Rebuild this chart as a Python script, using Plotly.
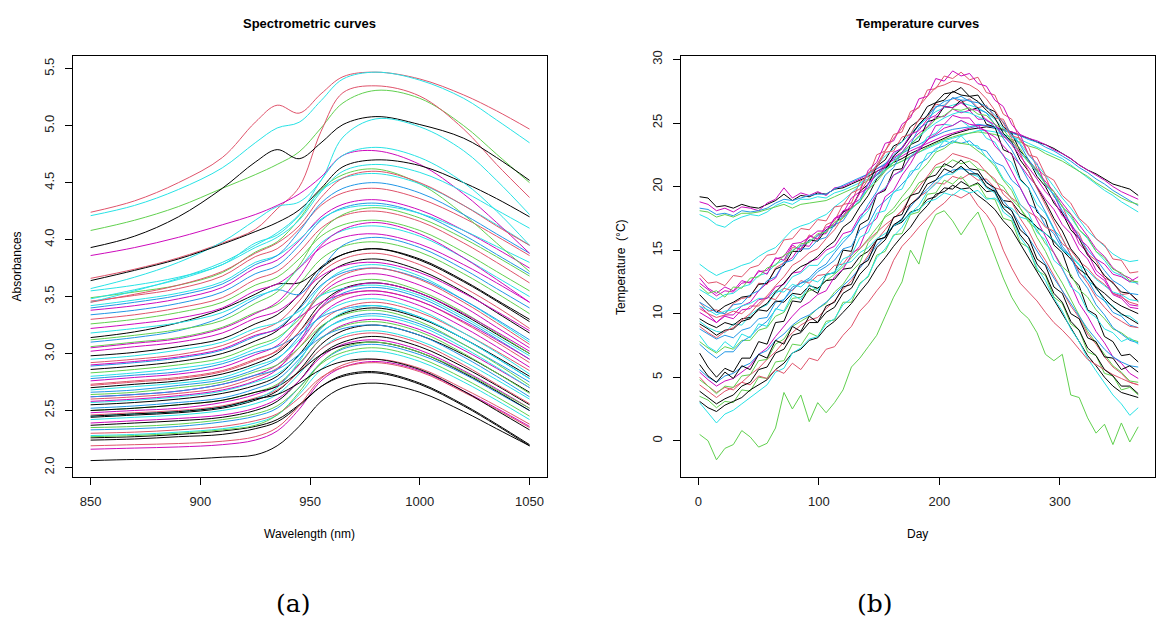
import plotly.graph_objects as go

# ---------------- palette (R default palette, matplot col = 1:6) ----------------
PAL = {"k": "#000000", "r": "#DF536B", "g": "#61D04F", "b": "#2297E6",
       "c": "#28E2E5", "m": "#CD0BBC"}

# ---------------- (a) spectrometric curves ----------------
SPEC_WAVELENGTH = [850, 870, 890, 910, 925, 935, 945, 955, 965, 980, 1000, 1020, 1035, 1050]

SPEC_ABSORBANCE = [
    [2.06, 2.07, 2.07, 2.09, 2.11, 2.19, 2.36, 2.58, 2.70, 2.74, 2.66, 2.49, 2.34, 2.19],
    [2.16, 2.17, 2.18, 2.20, 2.24, 2.32, 2.51, 2.76, 2.88, 2.93, 2.85, 2.67, 2.52, 2.36],
    [2.24, 2.25, 2.27, 2.29, 2.34, 2.40, 2.54, 2.71, 2.81, 2.84, 2.74, 2.55, 2.38, 2.20],
    [2.26, 2.27, 2.29, 2.32, 2.36, 2.42, 2.55, 2.71, 2.80, 2.83, 2.73, 2.54, 2.37, 2.19],
    [2.19, 2.20, 2.21, 2.23, 2.27, 2.35, 2.54, 2.78, 2.90, 2.95, 2.87, 2.69, 2.54, 2.38],
    [2.28, 2.29, 2.31, 2.34, 2.39, 2.46, 2.64, 2.86, 2.98, 3.02, 2.93, 2.75, 2.59, 2.42],
    [2.30, 2.31, 2.33, 2.36, 2.41, 2.47, 2.61, 2.79, 2.88, 2.92, 2.84, 2.66, 2.51, 2.35],
    [2.33, 2.34, 2.36, 2.40, 2.45, 2.52, 2.70, 2.92, 3.04, 3.08, 2.99, 2.82, 2.66, 2.50],
    [2.35, 2.36, 2.38, 2.42, 2.47, 2.54, 2.70, 2.91, 3.01, 3.05, 2.96, 2.78, 2.62, 2.45],
    [2.37, 2.39, 2.41, 2.44, 2.50, 2.58, 2.76, 2.99, 3.10, 3.15, 3.06, 2.88, 2.72, 2.55],
    [2.39, 2.41, 2.43, 2.46, 2.52, 2.60, 2.76, 2.97, 3.08, 3.12, 3.03, 2.85, 2.69, 2.52],
    [2.42, 2.44, 2.46, 2.50, 2.56, 2.64, 2.82, 3.04, 3.16, 3.20, 3.11, 2.93, 2.77, 2.60],
    [2.44, 2.46, 2.48, 2.52, 2.59, 2.67, 2.85, 3.08, 3.20, 3.25, 3.16, 2.99, 2.83, 2.66],
    [2.46, 2.48, 2.50, 2.54, 2.61, 2.68, 2.84, 3.04, 3.14, 3.18, 3.09, 2.90, 2.73, 2.56],
    [2.48, 2.50, 2.52, 2.57, 2.64, 2.72, 2.90, 3.13, 3.25, 3.30, 3.21, 3.03, 2.87, 2.70],
    [2.50, 2.52, 2.55, 2.59, 2.66, 2.73, 2.91, 3.13, 3.24, 3.28, 3.19, 3.00, 2.83, 2.65],
    [2.52, 2.54, 2.57, 2.61, 2.69, 2.77, 2.95, 3.18, 3.30, 3.35, 3.26, 3.08, 2.92, 2.75],
    [2.55, 2.57, 2.60, 2.65, 2.72, 2.80, 2.99, 3.23, 3.35, 3.40, 3.31, 3.13, 2.97, 2.80],
    [2.57, 2.59, 2.62, 2.67, 2.75, 2.82, 2.98, 3.19, 3.29, 3.33, 3.24, 3.05, 2.88, 2.70],
    [2.60, 2.62, 2.65, 2.70, 2.79, 2.87, 3.05, 3.28, 3.40, 3.45, 3.36, 3.18, 3.02, 2.85],
    [2.62, 2.64, 2.67, 2.73, 2.81, 2.90, 3.09, 3.34, 3.47, 3.52, 3.42, 3.23, 3.06, 2.88],
    [2.64, 2.66, 2.70, 2.75, 2.84, 2.90, 3.05, 3.24, 3.34, 3.38, 3.28, 3.08, 2.91, 2.72],
    [2.66, 2.68, 2.72, 2.77, 2.86, 2.95, 3.15, 3.40, 3.53, 3.58, 3.49, 3.30, 3.13, 2.95],
    [2.68, 2.71, 2.74, 2.79, 2.89, 2.96, 3.12, 3.33, 3.44, 3.48, 3.38, 3.18, 3.01, 2.82],
    [2.70, 2.73, 2.76, 2.82, 2.91, 3.00, 3.19, 3.44, 3.57, 3.62, 3.53, 3.34, 3.17, 3.00],
    [2.73, 2.76, 2.79, 2.85, 2.95, 3.02, 3.19, 3.40, 3.51, 3.55, 3.46, 3.27, 3.10, 2.92],
    [2.76, 2.79, 2.82, 2.88, 2.99, 3.07, 3.27, 3.52, 3.65, 3.70, 3.60, 3.41, 3.23, 3.05],
    [2.78, 2.81, 2.84, 2.91, 3.01, 3.06, 3.17, 3.32, 3.39, 3.42, 3.32, 3.13, 2.96, 2.78],
    [2.80, 2.83, 2.87, 2.93, 3.04, 3.12, 3.33, 3.59, 3.73, 3.78, 3.68, 3.47, 3.29, 3.10],
    [2.83, 2.86, 2.90, 2.96, 3.07, 3.14, 3.30, 3.51, 3.61, 3.65, 3.55, 3.36, 3.18, 3.00],
    [2.86, 2.89, 2.93, 3.00, 3.11, 3.20, 3.40, 3.65, 3.78, 3.83, 3.73, 3.54, 3.36, 3.18],
    [2.89, 2.92, 2.96, 3.03, 3.15, 3.22, 3.39, 3.60, 3.71, 3.75, 3.66, 3.47, 3.30, 3.12],
    [2.92, 2.95, 2.99, 3.07, 3.19, 3.27, 3.46, 3.71, 3.83, 3.88, 3.78, 3.58, 3.41, 3.22],
    [2.95, 2.98, 3.03, 3.10, 3.22, 3.27, 3.37, 3.51, 3.57, 3.60, 3.51, 3.32, 3.15, 2.98],
    [2.98, 3.01, 3.06, 3.13, 3.26, 3.34, 3.52, 3.76, 3.87, 3.92, 3.82, 3.63, 3.46, 3.28],
    [3.02, 3.06, 3.10, 3.18, 3.31, 3.37, 3.51, 3.68, 3.77, 3.80, 3.71, 3.53, 3.37, 3.20],
    [3.06, 3.10, 3.14, 3.23, 3.36, 3.43, 3.61, 3.83, 3.94, 3.98, 3.89, 3.70, 3.53, 3.35],
    [3.10, 3.14, 3.20, 3.32, 3.48, 3.56, 3.52, 3.74, 3.95, 4.02, 3.93, 3.74, 3.57, 3.40],
    [3.14, 3.19, 3.27, 3.39, 3.52, 3.61, 3.62, 3.75, 3.87, 3.92, 3.83, 3.64, 3.47, 3.30],
    [3.18, 3.22, 3.27, 3.36, 3.50, 3.57, 3.75, 3.97, 4.08, 4.12, 4.03, 3.84, 3.67, 3.50],
    [3.22, 3.26, 3.31, 3.40, 3.55, 3.61, 3.75, 3.93, 4.02, 4.05, 3.96, 3.78, 3.62, 3.45],
    [3.26, 3.30, 3.36, 3.45, 3.60, 3.67, 3.83, 4.03, 4.13, 4.17, 4.08, 3.89, 3.72, 3.55],
    [3.30, 3.34, 3.40, 3.49, 3.65, 3.72, 3.89, 4.10, 4.21, 4.25, 4.16, 3.97, 3.80, 3.62],
    [3.34, 3.38, 3.44, 3.54, 3.70, 3.77, 3.95, 4.17, 4.28, 4.32, 4.23, 4.04, 3.87, 3.70],
    [3.38, 3.42, 3.48, 3.58, 3.75, 3.82, 3.99, 4.20, 4.31, 4.35, 4.26, 4.08, 3.92, 3.75],
    [3.42, 3.47, 3.53, 3.63, 3.80, 3.86, 4.00, 4.18, 4.27, 4.30, 4.23, 4.08, 3.94, 3.80],
    [3.46, 3.51, 3.57, 3.68, 3.85, 3.92, 4.09, 4.30, 4.41, 4.45, 4.36, 4.19, 4.03, 3.86],
    [3.49, 3.54, 3.60, 3.71, 3.89, 3.98, 4.18, 4.44, 4.57, 4.62, 4.49, 4.22, 3.97, 3.72],
    [3.55, 3.60, 3.67, 3.78, 3.97, 4.04, 4.21, 4.43, 4.54, 4.58, 4.49, 4.30, 4.13, 3.95],
    [3.40, 3.45, 3.51, 3.61, 3.78, 3.86, 4.07, 4.32, 4.45, 4.50, 4.41, 4.22, 4.05, 3.88],
    [2.90, 2.93, 2.97, 3.04, 3.16, 3.21, 3.32, 3.45, 3.52, 3.55, 3.46, 3.28, 3.12, 2.95],
    [2.58, 2.60, 2.63, 2.68, 2.76, 2.86, 3.10, 3.41, 3.56, 3.62, 3.53, 3.35, 3.19, 3.02],
    [2.50, 2.52, 2.55, 2.59, 2.66, 2.71, 2.84, 2.99, 3.07, 3.10, 3.01, 2.83, 2.67, 2.50],
    [2.27, 2.28, 2.30, 2.33, 2.37, 2.46, 2.66, 2.92, 3.05, 3.10, 3.01, 2.84, 2.68, 2.52],
    [2.45, 2.47, 2.49, 2.53, 2.60, 2.70, 2.93, 3.22, 3.36, 3.42, 3.32, 3.13, 2.96, 2.78],
    [2.72, 2.75, 2.78, 2.84, 2.94, 3.03, 3.26, 3.55, 3.69, 3.75, 3.65, 3.45, 3.27, 3.08],
    [2.62, 2.64, 2.67, 2.73, 2.81, 2.86, 2.99, 3.14, 3.22, 3.25, 3.16, 2.97, 2.80, 2.62],
    [3.12, 3.16, 3.21, 3.29, 3.44, 3.54, 3.77, 4.07, 4.22, 4.28, 4.19, 4.01, 3.85, 3.68],
    [3.05, 3.09, 3.13, 3.22, 3.35, 3.45, 3.67, 3.95, 4.09, 4.15, 4.05, 3.84, 3.65, 3.45],
    [2.45, 2.47, 2.49, 2.53, 2.60, 2.64, 2.74, 2.86, 2.93, 2.95, 2.86, 2.67, 2.50, 2.33],
    [4.24, 4.34, 4.50, 4.72, 5.03, 5.18, 5.11, 5.28, 5.43, 5.47, 5.41, 5.27, 5.13, 4.97],
    [4.21, 4.30, 4.44, 4.63, 4.85, 4.98, 5.03, 5.22, 5.41, 5.47, 5.40, 5.24, 5.05, 4.85],
    [4.08, 4.17, 4.29, 4.45, 4.57, 4.66, 4.77, 4.98, 5.20, 5.31, 5.24, 5.00, 4.75, 4.50],
    [3.66, 3.74, 3.84, 3.97, 4.09, 4.27, 4.46, 4.95, 5.29, 5.35, 5.26, 4.97, 4.66, 4.37],
    [3.93, 4.03, 4.20, 4.45, 4.68, 4.79, 4.71, 4.85, 5.01, 5.08, 5.01, 4.89, 4.72, 4.52],
    [3.57, 3.67, 3.80, 3.98, 4.17, 4.29, 4.33, 4.52, 4.90, 5.06, 4.99, 4.78, 4.52, 4.22],
    [3.86, 3.93, 4.02, 4.13, 4.22, 4.30, 4.40, 4.55, 4.74, 4.78, 4.66, 4.40, 4.15, 3.88],
    [3.64, 3.73, 3.83, 3.96, 4.07, 4.15, 4.26, 4.45, 4.64, 4.70, 4.65, 4.50, 4.36, 4.20],
    [3.45, 3.55, 3.66, 3.80, 3.95, 4.06, 4.22, 4.52, 4.74, 4.81, 4.72, 4.50, 4.25, 3.95],
    [3.48, 3.56, 3.65, 3.78, 3.93, 4.02, 4.17, 4.42, 4.60, 4.66, 4.59, 4.42, 4.26, 4.10],
    [3.45, 3.52, 3.60, 3.72, 3.88, 3.97, 4.12, 4.37, 4.54, 4.60, 4.50, 4.30, 4.12, 3.95],
]
SPEC_COLOR = list("kmkkrcrbgkmckrmgbkcrmgbckrmbcgkbrckmgbkcmgrbmcrgcbmmkgcrbgmk"
                  "rcgrkcmkccr")

# ---------------- (b) temperature curves ----------------
TEMP_DAY = [1, 8, 15, 22, 29, 36, 43, 50, 57, 64, 71, 78, 85, 92, 99, 106, 113, 120,
            127, 134, 141, 148, 155, 162, 169, 176, 183, 190, 197, 204, 211, 218, 225,
            232, 239, 246, 253, 260, 267, 274, 281, 288, 295, 302, 309, 316, 323, 330,
            337, 344, 351, 358, 365]

TEMP_VALUES = [
    [19.2, 19.1, 18.4, 18.5, 18.3, 18.6, 18.4, 18.3, 18.6, 18.9, 19.4, 18.9, 19.3,
     19.2, 19.5, 19.4, 19.8, 19.9, 20.2, 20.5, 20.8, 21.2, 21.5, 21.9, 22.2, 22.6,
     22.9, 23.2, 23.5, 23.8, 24.1, 24.3, 24.5, 24.6, 24.7, 24.6, 24.5, 24.3, 24.0,
     23.8, 23.5, 23.3, 23.0, 22.6, 22.2, 21.7, 21.3, 21.0, 20.6, 20.2, 20.0, 19.8, 19.3],
    [18.8, 18.6, 18.1, 18.3, 18.0, 18.4, 18.3, 18.1, 18.7, 19.0, 19.9, 19.1, 19.5,
     19.3, 19.6, 19.3, 19.9, 20.0, 20.3, 20.6, 21.0, 21.4, 21.7, 22.1, 22.4, 22.8,
     23.1, 23.4, 23.7, 24.0, 24.2, 24.4, 24.6, 24.8, 24.8, 24.7, 24.5, 24.3, 24.1,
     23.8, 23.6, 23.3, 22.9, 22.6, 22.2, 21.7, 21.3, 20.9, 20.5, 20.0, 19.6, 19.3, 19.0],
    [17.8, 17.5, 17.0, 16.8, 17.3, 17.6, 17.8, 17.7, 18.0, 18.5, 18.8, 18.6, 19.0,
     19.0, 19.2, 19.1, 19.5, 19.7, 20.0, 20.3, 20.6, 21.0, 21.4, 21.7, 22.0, 22.3,
     22.7, 23.0, 23.3, 23.6, 23.8, 24.0, 24.2, 24.4, 24.4, 24.3, 24.1, 23.9, 23.7,
     23.4, 23.1, 22.8, 22.5, 22.2, 21.7, 21.2, 20.7, 20.2, 19.7, 19.3, 18.8, 18.4, 18.0],
    [18.3, 18.2, 17.8, 17.9, 17.7, 18.1, 18.0, 18.1, 18.3, 18.7, 19.0, 18.9, 19.1,
     19.3, 19.4, 19.4, 19.8, 20.1, 20.4, 20.7, 21.0, 21.4, 21.8, 22.2, 22.6, 23.0,
     23.3, 23.7, 24.0, 24.3, 24.5, 24.6, 24.7, 24.9, 24.8, 24.6, 24.4, 24.2, 24.0,
     23.7, 23.5, 23.1, 22.8, 22.4, 22.0, 21.5, 21.1, 20.6, 20.2, 19.7, 19.3, 18.9, 18.5],
    [18.1, 18.0, 17.6, 17.8, 17.6, 17.9, 17.9, 18.0, 18.2, 18.4, 18.6, 18.3, 18.6,
     18.7, 18.8, 18.9, 19.2, 19.5, 19.8, 20.1, 20.5, 20.9, 21.3, 21.7, 22.0, 22.4,
     22.7, 23.1, 23.4, 23.7, 23.9, 24.1, 24.2, 24.3, 24.2, 24.1, 23.9, 23.7, 23.5,
     23.2, 23.0, 22.6, 22.3, 22.0, 21.6, 21.2, 20.8, 20.3, 19.9, 19.5, 19.1, 18.8, 18.6],
    [0.5, 0.0, -1.5, -0.6, -0.3, 0.8, 0.3, -0.5, -0.2, 1.0, 3.8, 2.5, 3.6,
     1.5, 3.0, 2.2, 3.0, 4.0, 5.8, 6.5, 7.4, 8.3, 9.8, 11.3, 12.5, 15.0,
     13.9, 16.5, 17.8, 18.1, 17.3, 16.2, 17.2, 18.0, 16.3, 14.5, 12.8, 11.3, 10.2,
     9.6, 8.5, 6.8, 6.3, 6.8, 3.6, 3.4, 1.8, 0.6, 1.3, -0.3, 1.4, -0.1, 1.1],
    [10.9, 10.2, 10.3, 10.0, 10.8, 11.2, 11.3, 12.4, 12.3, 13.6, 14.0, 15.2, 15.1,
     16.2, 15.8, 17.0, 17.3, 18.6, 18.7, 20.4, 20.8, 22.5, 22.8, 24.1, 24.3, 25.9,
     26.2, 27.6, 27.7, 28.7, 28.5, 29.0, 28.4, 28.6, 27.4, 27.2, 25.7, 25.3, 23.6,
     23.1, 21.4, 20.8, 19.2, 18.5, 16.9, 16.3, 14.7, 14.2, 12.8, 12.5, 11.5, 11.6, 10.9],
    [10.6, 10.0, 9.3, 9.9, 9.9, 10.6, 10.9, 11.8, 12.4, 12.8, 14.0, 14.4, 15.4,
     15.3, 16.2, 16.3, 17.5, 17.9, 19.1, 19.6, 21.3, 21.9, 23.4, 23.6, 24.9, 25.4,
     26.9, 27.1, 28.5, 28.3, 29.1, 28.7, 28.9, 28.1, 27.9, 26.8, 26.3, 24.9, 24.1,
     22.5, 21.8, 20.1, 19.4, 17.9, 17.0, 15.5, 14.8, 13.4, 12.8, 11.6, 11.4, 10.7, 10.6],
    [11.5, 10.8, 10.1, 10.6, 10.9, 11.3, 11.4, 12.3, 12.4, 13.5, 13.8, 14.9, 14.9,
     15.8, 15.7, 16.6, 16.9, 18.0, 18.3, 19.6, 20.2, 21.6, 22.1, 23.2, 23.5, 24.7,
     25.2, 26.3, 26.6, 27.3, 27.4, 27.8, 27.1, 27.2, 26.2, 25.9, 24.7, 24.2, 22.8,
     22.1, 20.8, 20.0, 18.7, 17.9, 16.6, 15.9, 14.6, 13.9, 13.0, 12.4, 11.7, 11.6, 11.0],
    [13.9, 13.4, 13.0, 13.3, 13.5, 13.8, 14.0, 14.5, 14.9, 15.2, 15.9, 16.6, 16.9,
     17.1, 17.5, 17.8, 18.4, 18.9, 19.5, 20.1, 20.9, 21.7, 22.4, 23.0, 23.5, 24.2,
     24.8, 25.4, 25.9, 26.2, 26.4, 26.6, 26.4, 26.2, 25.8, 25.3, 24.6, 24.1, 23.4,
     22.5, 21.7, 20.9, 20.0, 19.1, 18.3, 17.4, 16.5, 15.9, 15.3, 14.7, 14.3, 14.1, 14.2],
    [13.1, 12.4, 12.5, 12.2, 13.0, 12.9, 13.6, 13.8, 14.6, 14.7, 15.8, 15.9, 16.7,
     16.6, 17.4, 17.3, 18.4, 18.5, 19.5, 19.8, 21.1, 21.5, 22.7, 22.8, 23.9, 24.1,
     25.3, 25.4, 26.5, 26.3, 27.0, 26.6, 26.9, 26.2, 26.4, 25.4, 25.3, 24.0, 23.8,
     22.5, 22.3, 20.9, 20.5, 19.3, 18.7, 17.5, 16.9, 15.9, 15.4, 14.3, 14.2, 13.2, 13.3],
    [12.4, 11.9, 11.4, 11.8, 11.7, 12.4, 12.5, 13.3, 13.4, 14.3, 14.5, 15.5, 15.6,
     16.0, 16.5, 16.5, 17.5, 17.7, 18.6, 19.0, 20.3, 20.9, 21.5, 22.3, 22.7, 23.6,
     24.2, 24.7, 25.5, 25.5, 26.1, 25.8, 26.0, 25.3, 25.3, 24.7, 24.0, 23.5, 22.6,
     22.0, 21.2, 20.4, 19.6, 18.7, 17.8, 17.0, 16.1, 15.1, 14.5, 13.6, 13.1, 12.8, 12.3],
    [10.9, 10.5, 10.1, 10.0, 10.7, 10.8, 11.5, 11.8, 12.6, 12.9, 14.0, 14.2, 15.1,
     15.1, 15.8, 16.0, 17.0, 17.3, 18.3, 18.8, 20.2, 20.9, 21.8, 22.5, 23.1, 24.0,
     24.8, 25.6, 26.2, 26.7, 26.9, 27.1, 26.7, 26.6, 26.3, 25.6, 25.1, 24.0, 23.3,
     22.1, 21.3, 20.2, 19.3, 18.1, 17.1, 16.1, 15.0, 14.3, 13.4, 12.6, 12.2, 11.6, 11.5],
    [6.9, 5.8, 5.0, 5.7, 5.4, 6.5, 6.5, 7.8, 7.6, 9.3, 9.4, 11.0, 10.9,
     12.0, 11.6, 13.1, 13.2, 15.0, 14.9, 17.0, 17.4, 19.4, 19.7, 21.3, 21.4, 23.3,
     23.6, 25.1, 25.3, 26.3, 26.2, 26.8, 26.0, 26.2, 24.9, 24.7, 22.9, 22.6, 20.6,
     19.9, 18.0, 17.4, 15.4, 14.8, 12.9, 12.2, 10.3, 9.9, 8.2, 7.8, 6.7, 6.8, 6.2],
    [9.4, 8.9, 8.6, 8.5, 9.2, 9.1, 9.9, 10.4, 10.7, 11.6, 12.0, 12.9, 13.2,
     13.8, 13.8, 14.6, 15.0, 15.9, 16.3, 17.4, 18.1, 19.4, 19.9, 20.9, 21.2, 22.4,
     22.9, 23.9, 24.2, 24.9, 24.8, 25.2, 24.7, 24.7, 23.8, 23.5, 22.4, 21.9, 20.5,
     19.9, 18.6, 17.9, 16.6, 15.9, 14.6, 13.9, 12.6, 12.1, 11.0, 10.6, 9.9, 9.8, 9.3],
    [8.8, 8.4, 8.0, 8.3, 8.1, 8.7, 8.9, 9.6, 9.7, 10.9, 11.1, 12.1, 12.4,
     12.6, 13.3, 13.7, 14.2, 15.1, 15.3, 16.6, 17.0, 18.3, 18.9, 19.5, 20.2, 20.9,
     21.8, 22.2, 23.0, 23.2, 23.6, 23.4, 23.6, 23.0, 22.8, 21.9, 21.6, 20.5, 19.9,
     18.6, 18.2, 16.9, 16.3, 15.1, 14.5, 13.2, 12.7, 11.5, 11.0, 10.1, 9.8, 9.1, 8.9],
    [7.8, 7.3, 6.9, 7.4, 7.2, 7.9, 7.9, 8.7, 8.9, 9.8, 10.1, 11.2, 11.3,
     11.8, 12.0, 12.6, 13.1, 13.7, 14.4, 15.1, 15.9, 16.8, 17.6, 18.0, 18.8, 19.3,
     20.3, 20.6, 21.5, 21.6, 22.1, 21.8, 22.0, 21.4, 21.2, 20.4, 20.0, 19.0, 18.3,
     17.2, 16.6, 15.5, 14.8, 13.7, 13.1, 11.9, 11.3, 10.3, 9.6, 8.8, 8.5, 8.0, 7.8],
    [9.6, 9.2, 8.9, 9.3, 9.1, 9.6, 9.7, 10.3, 10.2, 11.0, 10.9, 11.6, 11.5,
     12.2, 12.0, 12.6, 12.7, 13.5, 13.6, 14.5, 14.9, 15.8, 16.0, 16.9, 17.2, 18.0,
     18.2, 19.0, 19.2, 19.9, 19.8, 20.4, 20.0, 20.3, 19.6, 19.7, 18.9, 18.8, 17.9,
     17.5, 16.8, 16.3, 15.7, 15.0, 14.3, 13.5, 13.0, 12.1, 11.6, 11.0, 10.6, 10.3, 10.0],
    [10.4, 10.0, 9.7, 9.9, 10.2, 10.0, 10.6, 10.6, 11.3, 11.1, 12.0, 11.8, 12.6,
     12.4, 13.0, 13.1, 13.8, 13.9, 14.8, 15.1, 15.8, 16.4, 17.0, 17.5, 18.1, 18.6,
     19.2, 19.6, 20.3, 20.2, 20.8, 20.6, 21.0, 20.5, 20.6, 19.9, 19.7, 19.1, 18.6,
     18.0, 17.6, 16.8, 16.5, 15.5, 15.0, 14.1, 13.6, 12.8, 12.3, 11.6, 11.3, 10.9, 10.7],
    [3.5, 3.2, 2.6, 3.1, 3.0, 4.0, 3.9, 5.0, 4.9, 6.2, 6.3, 7.6, 7.5,
     8.5, 8.2, 9.4, 9.5, 10.9, 10.9, 12.4, 12.9, 14.6, 14.9, 16.2, 16.3, 17.8,
     18.0, 19.4, 19.5, 20.5, 20.2, 20.8, 20.0, 20.2, 19.1, 19.0, 17.5, 17.3, 15.6,
     15.2, 13.4, 13.0, 11.3, 10.8, 9.2, 8.7, 7.0, 6.7, 5.3, 5.1, 4.0, 4.2, 3.6],
    [3.1, 2.6, 2.3, 2.8, 3.1, 3.4, 4.0, 4.4, 4.8, 5.6, 6.1, 6.9, 7.2,
     7.9, 8.1, 8.9, 9.4, 10.1, 10.8, 11.7, 12.5, 13.6, 14.4, 15.3, 16.1, 16.8,
     17.8, 18.5, 19.4, 19.6, 20.1, 19.8, 19.9, 19.3, 18.8, 18.2, 17.3, 16.6, 15.5,
     14.5, 13.4, 12.2, 11.2, 10.0, 9.0, 7.8, 6.7, 5.9, 5.0, 4.3, 3.8, 3.6, 3.4],
    [3.0, 2.2, 1.4, 2.1, 2.4, 2.9, 3.4, 3.9, 4.4, 5.4, 5.7, 6.9, 7.3,
     8.0, 8.2, 9.2, 9.6, 10.7, 11.2, 12.3, 13.0, 14.4, 15.1, 16.1, 16.8, 17.9,
     18.5, 19.6, 20.2, 20.9, 21.0, 21.5, 21.0, 20.8, 19.9, 19.5, 18.0, 17.5, 16.0,
     15.1, 13.6, 12.6, 11.2, 10.2, 8.8, 7.8, 6.5, 5.5, 4.5, 3.6, 2.9, 2.0, 2.6],
    [5.4, 4.8, 4.3, 4.7, 4.9, 5.4, 5.9, 6.8, 7.3, 8.2, 9.0, 9.8, 10.5,
     10.9, 11.5, 11.8, 12.9, 13.5, 14.6, 15.3, 16.9, 17.5, 19.2, 19.7, 20.9, 21.8,
     23.0, 23.6, 24.8, 24.9, 25.6, 25.4, 25.4, 24.6, 24.4, 23.2, 22.5, 21.2, 20.0,
     18.6, 17.4, 16.0, 14.8, 13.5, 12.3, 10.8, 9.8, 8.6, 7.7, 6.6, 6.1, 5.3, 4.9],
    [4.4, 3.9, 3.4, 3.9, 4.2, 4.6, 5.2, 5.7, 6.4, 7.0, 7.8, 8.5, 9.1,
     9.5, 9.7, 10.4, 11.0, 11.9, 12.6, 13.6, 14.6, 15.8, 16.6, 17.5, 18.1, 19.2,
     20.0, 20.8, 21.7, 22.0, 22.6, 22.4, 22.2, 21.9, 21.1, 20.6, 19.4, 18.8, 17.5,
     16.5, 15.2, 14.2, 13.0, 11.9, 10.6, 9.7, 8.4, 7.6, 6.6, 5.8, 5.3, 4.6, 4.4],
    [5.0, 4.3, 3.8, 4.2, 4.0, 4.6, 4.4, 5.1, 4.9, 5.6, 5.3, 6.1, 5.6,
     6.5, 6.3, 7.2, 7.4, 8.3, 9.0, 10.2, 10.9, 11.8, 12.6, 14.2, 15.3, 16.0,
     16.8, 17.5, 18.2, 18.7, 19.4, 19.1, 19.5, 18.5, 17.8, 16.8, 15.0, 13.6, 12.4,
     11.7, 11.0, 10.1, 9.3, 8.7, 8.0, 7.2, 6.4, 6.0, 5.6, 5.2, 4.9, 4.6, 4.4],
    [7.6, 7.0, 6.5, 7.0, 7.0, 7.8, 8.2, 8.9, 9.4, 10.3, 11.1, 11.9, 12.4,
     12.8, 13.5, 13.9, 14.8, 15.6, 16.3, 17.5, 18.6, 19.6, 20.9, 21.5, 22.7, 23.3,
     24.6, 25.0, 26.3, 26.4, 27.0, 26.8, 26.8, 26.1, 25.8, 24.9, 23.8, 22.9, 21.7,
     20.5, 19.2, 18.0, 16.7, 15.3, 14.5, 12.9, 12.0, 10.7, 9.9, 8.9, 8.4, 7.9, 7.7],
    [10.6, 10.3, 9.9, 10.2, 10.3, 10.6, 10.8, 11.2, 11.2, 11.8, 11.7, 12.3, 12.1,
     12.7, 12.5, 13.1, 13.2, 13.9, 14.1, 14.8, 15.2, 15.9, 16.3, 16.9, 17.3, 17.9,
     18.2, 18.8, 19.0, 19.5, 19.3, 19.8, 19.5, 19.7, 19.0, 19.1, 18.4, 18.3, 17.6,
     17.4, 16.7, 16.3, 15.8, 15.0, 14.5, 13.8, 13.4, 12.7, 12.2, 11.7, 11.5, 11.1, 11.0],
    [10.1, 9.7, 9.3, 9.8, 9.6, 10.3, 10.4, 11.1, 11.2, 12.1, 12.3, 13.2, 13.3,
     14.1, 14.3, 15.0, 15.3, 16.3, 16.5, 17.7, 18.3, 19.4, 19.8, 20.9, 21.3, 22.3,
     22.8, 23.7, 24.1, 24.6, 24.8, 25.2, 24.9, 24.8, 24.3, 23.9, 23.2, 22.5, 21.7,
     20.8, 20.0, 19.0, 18.2, 17.0, 16.3, 15.0, 14.3, 13.1, 12.6, 11.5, 11.2, 10.5, 10.4],
    [4.8, 4.3, 3.7, 4.3, 4.2, 5.1, 5.2, 6.3, 6.4, 7.6, 8.0, 9.0, 9.4,
     9.8, 10.4, 10.8, 11.7, 12.3, 13.3, 14.0, 15.6, 16.3, 17.7, 18.3, 19.2, 20.0,
     21.1, 21.8, 22.7, 23.0, 23.5, 23.4, 23.3, 22.8, 22.3, 21.6, 20.5, 19.7, 18.3,
     17.4, 16.0, 14.9, 13.5, 12.4, 11.1, 9.9, 8.6, 7.7, 6.8, 5.9, 5.4, 4.7, 4.6],
    [9.2, 8.8, 8.3, 8.7, 8.8, 9.4, 9.6, 10.4, 10.8, 11.7, 12.4, 13.2, 13.7,
     14.0, 14.5, 15.2, 15.7, 16.8, 17.3, 18.4, 19.3, 20.6, 21.3, 22.4, 23.0, 24.0,
     24.9, 25.6, 26.6, 26.8, 27.5, 27.2, 27.1, 26.7, 26.0, 25.4, 24.2, 23.5, 22.1,
     21.2, 19.9, 18.8, 17.5, 16.5, 15.1, 14.3, 13.0, 12.0, 11.2, 10.5, 10.0, 9.6, 9.2],
    [11.9, 11.5, 11.1, 11.5, 11.6, 12.1, 12.3, 13.0, 13.2, 13.9, 14.2, 15.0, 15.3,
     15.7, 16.1, 16.5, 17.0, 17.7, 18.2, 19.0, 19.8, 20.7, 21.3, 22.0, 22.6, 23.3,
     23.9, 24.5, 25.0, 25.4, 25.7, 25.9, 25.8, 25.5, 25.2, 24.7, 24.1, 23.4, 22.7,
     21.9, 21.1, 20.2, 19.4, 18.4, 17.6, 16.6, 15.9, 14.9, 14.2, 13.3, 13.0, 12.5, 12.4],
    [5.6, 5.0, 4.6, 5.1, 5.3, 5.8, 6.1, 6.8, 7.1, 7.9, 8.4, 9.1, 9.6,
     9.9, 10.4, 10.9, 11.5, 12.2, 12.8, 13.6, 14.4, 15.4, 16.1, 16.9, 17.5, 18.4,
     19.2, 19.8, 20.5, 20.9, 21.3, 21.4, 21.3, 20.9, 20.4, 19.7, 18.9, 18.1, 17.0,
     16.0, 14.9, 13.9, 12.8, 11.8, 10.7, 9.8, 8.8, 8.0, 7.2, 6.6, 6.2, 5.9, 5.8],
    [3.9, 3.4, 2.9, 3.3, 3.6, 4.3, 4.6, 5.6, 5.8, 6.9, 7.2, 8.3, 8.5,
     9.3, 9.3, 10.1, 10.5, 11.6, 12.0, 13.1, 13.8, 15.2, 15.8, 17.0, 17.4, 18.6,
     19.1, 20.2, 20.5, 21.4, 21.1, 21.6, 21.0, 21.0, 20.0, 19.6, 18.3, 17.7, 16.2,
     15.4, 13.9, 13.1, 11.6, 10.9, 9.4, 8.7, 7.3, 6.7, 5.6, 5.1, 4.3, 4.3, 3.7],
    [9.0, 8.5, 8.1, 8.6, 8.9, 9.5, 10.0, 10.8, 11.4, 12.2, 12.9, 13.8, 14.2,
     14.8, 15.1, 15.9, 16.6, 17.6, 18.4, 19.5, 20.6, 21.8, 22.8, 23.8, 24.6, 25.6,
     26.3, 27.1, 27.8, 28.0, 28.3, 28.2, 28.0, 27.6, 26.9, 26.0, 25.0, 23.8, 22.6,
     21.2, 19.9, 18.5, 17.3, 15.9, 14.7, 13.3, 12.4, 11.3, 10.5, 9.8, 9.4, 9.0, 8.9],
    [12.8, 12.0, 11.6, 12.1, 11.8, 12.6, 12.4, 13.4, 13.1, 14.4, 14.2, 15.4, 15.0,
     16.1, 15.9, 16.8, 17.0, 18.1, 18.3, 19.5, 19.9, 21.2, 21.6, 22.7, 23.0, 24.1,
     24.4, 25.3, 25.6, 26.3, 26.2, 26.6, 26.1, 26.0, 25.2, 24.9, 24.0, 23.3, 22.4,
     21.5, 20.6, 19.6, 18.9, 17.7, 17.1, 15.9, 15.3, 14.3, 13.9, 13.1, 12.9, 12.5, 12.9],
    [8.3, 7.4, 7.0, 7.8, 7.3, 8.4, 8.1, 9.2, 9.0, 10.4, 10.2, 11.5, 11.1,
     12.3, 11.8, 13.0, 13.3, 14.3, 14.6, 16.0, 16.4, 17.9, 18.1, 19.6, 19.8, 21.2,
     21.4, 22.6, 22.8, 23.6, 23.4, 24.0, 23.3, 23.2, 22.3, 21.8, 20.6, 20.0, 18.6,
     17.9, 16.4, 15.8, 14.2, 13.6, 12.1, 11.6, 10.2, 9.7, 8.8, 8.5, 7.8, 8.1, 7.6],
    [6.0, 5.1, 4.6, 5.4, 4.9, 5.9, 5.6, 6.8, 6.5, 7.9, 7.6, 9.0, 8.6,
     9.8, 9.3, 10.6, 10.9, 12.1, 12.3, 13.8, 14.2, 15.8, 16.0, 17.6, 17.8, 19.3,
     19.5, 20.7, 20.9, 21.8, 21.5, 22.1, 21.4, 21.3, 20.3, 19.9, 18.6, 18.1, 16.6,
     16.0, 14.3, 13.8, 12.1, 11.6, 10.0, 9.6, 8.1, 7.8, 6.6, 6.5, 5.6, 5.9, 5.4],
    [12.2, 11.6, 11.8, 11.3, 12.1, 12.0, 12.8, 12.9, 13.6, 13.8, 14.6, 14.9, 15.5,
     15.6, 16.3, 16.4, 17.2, 17.5, 18.3, 18.8, 19.8, 20.4, 21.2, 21.9, 22.6, 23.3,
     24.0, 24.6, 25.3, 25.6, 26.1, 26.0, 26.2, 25.7, 25.6, 24.9, 24.5, 23.6, 23.0,
     21.9, 21.3, 20.2, 19.6, 18.4, 17.8, 16.6, 16.0, 14.9, 14.4, 13.5, 13.2, 12.6, 12.5],
]
TEMP_COLOR = list("kmcbggrmkcrmbkcbgkrgkcmrrbcmgkcbkrmckg")

SPEC_TICKS = [850, 900, 950, 1000, 1050]
ABS_TICKS = [2.0, 2.5, 3.0, 3.5, 4.0, 4.5, 5.0, 5.5]
DAY_TICKS = [0, 100, 200, 300]
TEMP_TICKS = [0, 5, 10, 15, 20, 25, 30]

# ---------------- figure ----------------
W, H = 1156, 620
fig = go.Figure()

for vals, col in zip(SPEC_ABSORBANCE, SPEC_COLOR):
    fig.add_trace(go.Scatter(x=SPEC_WAVELENGTH, y=vals, mode="lines",
                             line=dict(color=PAL[col], width=1, shape="spline", smoothing=1.0),
                             xaxis="x", yaxis="y", hoverinfo="skip"))

for vals, col in zip(TEMP_VALUES, TEMP_COLOR):
    fig.add_trace(go.Scatter(x=TEMP_DAY[:len(vals)], y=vals, mode="lines",
                             line=dict(color=PAL[col], width=1),
                             xaxis="x2", yaxis="y2", hoverinfo="skip"))

def px_x(p):
    return p / W

def px_y(p):
    return (H - p) / H

axis_common = dict(showgrid=False, zeroline=False, showline=True, mirror=True,
                   linecolor="black", linewidth=1, ticks="outside", ticklen=7,
                   tickwidth=1, tickcolor="black", ticklabelstandoff=6,
                   tickfont=dict(family="Liberation Sans, Arial, sans-serif", size=13, color="#222"))

ydom = [px_y(475.5), px_y(50.7)]

fig.update_layout(
    width=W, height=H, margin=dict(l=0, r=0, t=0, b=0),
    paper_bgcolor="white", plot_bgcolor="white", showlegend=False,
    font=dict(family="Liberation Sans, Arial, sans-serif", color="black"),
    xaxis=dict(domain=[px_x(73), px_x(547.7)], range=[841.94, 1058.06],
               tickvals=SPEC_TICKS, anchor="y", **axis_common),
    yaxis=dict(domain=ydom, range=[1.917, 5.61], tickvals=ABS_TICKS,
               ticktext=["%.1f" % v for v in ABS_TICKS], tickangle=-90,
               anchor="x", **axis_common),
    xaxis2=dict(domain=[px_x(681.7), px_x(1155.5)], range=[-14.34, 378.5],
                tickvals=DAY_TICKS, anchor="y2", **axis_common),
    yaxis2=dict(domain=ydom, range=[-2.844, 30.257], tickvals=TEMP_TICKS,
                tickangle=-90, anchor="x2", **axis_common),
)

ann = [
    dict(text="<b>Spectrometric curves</b>", x=px_x(310), y=px_y(18), size=13),
    dict(text="<b>Temperature curves</b>", x=px_x(918.7), y=px_y(18), size=13),
    dict(text="Wavelength (nm)", x=px_x(310), y=px_y(533), size=12),
    dict(text="Day", x=px_x(918.7), y=px_y(533), size=12),
    dict(text="Absorbances", x=px_x(17), y=px_y(263), size=12, angle=-90),
    dict(text="Temperature  (°C)", x=px_x(622), y=px_y(263), size=12, angle=-90),
]
for a in ann:
    fig.add_annotation(text=a["text"], x=a["x"], y=a["y"], xref="paper", yref="paper",
                       showarrow=False, xanchor="center", yanchor="middle",
                       textangle=a.get("angle", 0),
                       font=dict(family="Liberation Sans, Arial, sans-serif",
                                 size=a["size"], color="black"))

for lab, xc in [("(a)", 293), ("(b)", 876)]:
    fig.add_annotation(text=lab, x=px_x(xc), y=px_y(603), xref="paper", yref="paper",
                       showarrow=False, xanchor="center", yanchor="middle",
                       font=dict(family="DejaVu Serif, serif", size=25, color="black"))

fig.write_html("out.html")
